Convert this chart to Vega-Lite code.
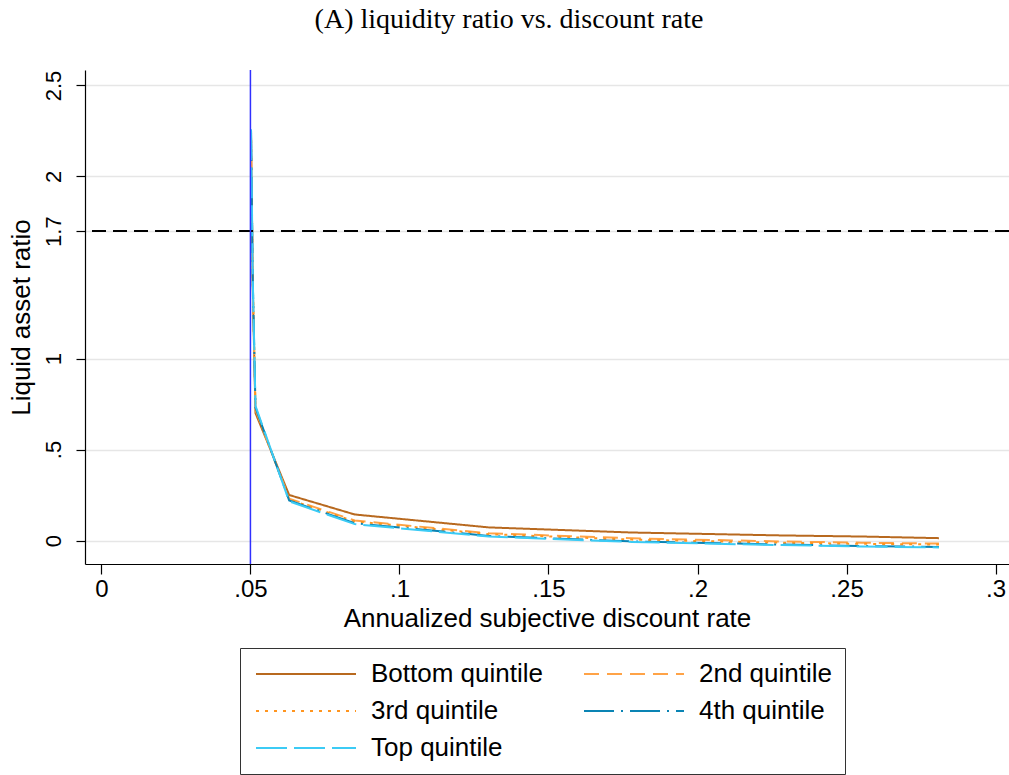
{
  "$schema": "https://vega.github.io/schema/vega-lite/v6.json",
  "width": 924,
  "height": 494,
  "autosize": {"type": "none"},
  "padding": {"left": 85, "top": 70, "right": 0, "bottom": 211},
  "background": "white",
  "title": {
    "text": "(A) liquidity ratio vs. discount rate",
    "font": "Liberation Serif",
    "fontSize": 28,
    "fontWeight": "normal",
    "color": "black",
    "anchor": "middle",
    "frame": "bounds",
    "offset": 35
  },
  "config": {
    "view": {"stroke": null},
    "axis": {
      "labelFont": "Liberation Sans",
      "titleFont": "Liberation Sans",
      "labelColor": "black",
      "titleColor": "black",
      "titleFontWeight": "normal",
      "domainColor": "black",
      "tickColor": "black",
      "domainWidth": 1.2,
      "tickWidth": 1.2,
      "gridColor": "#e6e6e6",
      "gridWidth": 1.5
    }
  },
  "datasets": {
    "curves": [
      {"rate": 0.0502, "ratio": 2.22, "group": "Bottom quintile"},
      {"rate": 0.0508, "ratio": 1.38, "group": "Bottom quintile"},
      {"rate": 0.0517, "ratio": 0.70, "group": "Bottom quintile"},
      {"rate": 0.063, "ratio": 0.25, "group": "Bottom quintile"},
      {"rate": 0.085, "ratio": 0.143, "group": "Bottom quintile"},
      {"rate": 0.13, "ratio": 0.072, "group": "Bottom quintile"},
      {"rate": 0.178, "ratio": 0.044, "group": "Bottom quintile"},
      {"rate": 0.228, "ratio": 0.028, "group": "Bottom quintile"},
      {"rate": 0.255, "ratio": 0.022, "group": "Bottom quintile"},
      {"rate": 0.281, "ratio": 0.013, "group": "Bottom quintile"},

      {"rate": 0.0502, "ratio": 2.24, "group": "2nd quintile"},
      {"rate": 0.0508, "ratio": 1.40, "group": "2nd quintile"},
      {"rate": 0.0517, "ratio": 0.72, "group": "2nd quintile"},
      {"rate": 0.063, "ratio": 0.23, "group": "2nd quintile"},
      {"rate": 0.085, "ratio": 0.11, "group": "2nd quintile"},
      {"rate": 0.13, "ratio": 0.04, "group": "2nd quintile"},
      {"rate": 0.178, "ratio": 0.012, "group": "2nd quintile"},
      {"rate": 0.228, "ratio": -0.005, "group": "2nd quintile"},
      {"rate": 0.255, "ratio": -0.012, "group": "2nd quintile"},
      {"rate": 0.281, "ratio": -0.017, "group": "2nd quintile"},

      {"rate": 0.0502, "ratio": 2.25, "group": "3rd quintile"},
      {"rate": 0.0508, "ratio": 1.41, "group": "3rd quintile"},
      {"rate": 0.0517, "ratio": 0.72, "group": "3rd quintile"},
      {"rate": 0.063, "ratio": 0.225, "group": "3rd quintile"},
      {"rate": 0.085, "ratio": 0.105, "group": "3rd quintile"},
      {"rate": 0.13, "ratio": 0.035, "group": "3rd quintile"},
      {"rate": 0.178, "ratio": 0.005, "group": "3rd quintile"},
      {"rate": 0.228, "ratio": -0.012, "group": "3rd quintile"},
      {"rate": 0.255, "ratio": -0.018, "group": "3rd quintile"},
      {"rate": 0.281, "ratio": -0.022, "group": "3rd quintile"},

      {"rate": 0.0502, "ratio": 2.25, "group": "4th quintile"},
      {"rate": 0.0508, "ratio": 1.42, "group": "4th quintile"},
      {"rate": 0.0517, "ratio": 0.73, "group": "4th quintile"},
      {"rate": 0.063, "ratio": 0.22, "group": "4th quintile"},
      {"rate": 0.085, "ratio": 0.095, "group": "4th quintile"},
      {"rate": 0.13, "ratio": 0.025, "group": "4th quintile"},
      {"rate": 0.178, "ratio": -0.005, "group": "4th quintile"},
      {"rate": 0.228, "ratio": -0.022, "group": "4th quintile"},
      {"rate": 0.255, "ratio": -0.03, "group": "4th quintile"},
      {"rate": 0.281, "ratio": -0.035, "group": "4th quintile"},

      {"rate": 0.0502, "ratio": 2.26, "group": "Top quintile"},
      {"rate": 0.0508, "ratio": 1.43, "group": "Top quintile"},
      {"rate": 0.0517, "ratio": 0.74, "group": "Top quintile"},
      {"rate": 0.063, "ratio": 0.215, "group": "Top quintile"},
      {"rate": 0.085, "ratio": 0.09, "group": "Top quintile"},
      {"rate": 0.13, "ratio": 0.022, "group": "Top quintile"},
      {"rate": 0.178, "ratio": -0.008, "group": "Top quintile"},
      {"rate": 0.228, "ratio": -0.025, "group": "Top quintile"},
      {"rate": 0.255, "ratio": -0.033, "group": "Top quintile"},
      {"rate": 0.281, "ratio": -0.038, "group": "Top quintile"}
    ],
    "benchmark": [{"ratio": 1.7}],
    "baseRate": [{"rate": 0.05}]
  },
  "layer": [
    {
      "data": {"name": "curves"},
      "mark": {"type": "line", "strokeWidth": 2, "clip": true},
      "encoding": {
        "x": {
          "field": "rate",
          "type": "quantitative",
          "scale": {"domain": [-0.0055, 0.3045], "nice": false, "zero": false},
          "axis": {
            "title": "Annualized subjective discount rate",
            "titleFontSize": 26,
            "titlePadding": 4,
            "values": [0, 0.05, 0.1, 0.15, 0.2, 0.25, 0.3],
            "labelExpr": "datum.value > 0 && datum.value < 1 ? slice(format(datum.value, '.2~f'), 1) : format(datum.value, '~g')",
            "labelFontSize": 24,
            "labelPadding": 3,
            "tickSize": 10,
            "grid": false,
            "labelFlush": false
          }
        },
        "y": {
          "field": "ratio",
          "type": "quantitative",
          "scale": {"domain": [-0.129, 2.585], "nice": false, "zero": false},
          "axis": {
            "title": "Liquid asset ratio",
            "titleFontSize": 26,
            "titlePadding": 8,
            "values": [0, 0.5, 1, 1.7, 2, 2.5],
            "labelExpr": "datum.value > 0 && datum.value < 1 ? slice(format(datum.value, '.2~f'), 1) : format(datum.value, '~g')",
            "labelFontSize": 22,
            "labelAngle": -90,
            "labelAlign": "center",
            "labelBaseline": "bottom",
            "labelPadding": 11,
            "tickSize": 9,
            "labelFlush": false
          }
        },
        "color": {
          "field": "group",
          "type": "nominal",
          "sort": ["Bottom quintile", "2nd quintile", "3rd quintile", "4th quintile", "Top quintile"],
          "scale": {
            "domain": ["Bottom quintile", "2nd quintile", "3rd quintile", "4th quintile", "Top quintile"],
            "range": ["#b8691f", "#ffa347", "#ff951f", "#0a84b4", "#3ccbf5"]
          },
          "legend": {
            "title": null,
            "orient": "none",
            "legendX": 155,
            "legendY": 578,
            "columns": 2,
            "direction": "horizontal",
            "symbolType": "M-1,0H9",
            "symbolSize": 400,
            "symbolStrokeWidth": 2,
            "symbolFillColor": "transparent",
            "labelFont": "Liberation Sans",
            "labelFontSize": 26,
            "labelColor": "black",
            "labelOffset": 92,
            "labelLimit": 300,
            "rowPadding": 11,
            "columnPadding": 37,
            "padding": 13,
            "strokeColor": "#333333",
            "fillColor": "white"
          }
        },
        "strokeDash": {
          "field": "group",
          "type": "nominal",
          "sort": ["Bottom quintile", "2nd quintile", "3rd quintile", "4th quintile", "Top quintile"],
          "scale": {
            "domain": ["Bottom quintile", "2nd quintile", "3rd quintile", "4th quintile", "Top quintile"],
            "range": [[1, 0], [15, 8], [3, 6], [30, 7, 2, 7], [31, 7]]
          }
        }
      }
    },
    {
      "data": {"name": "benchmark"},
      "mark": {"type": "rule", "color": "black", "strokeWidth": 2, "strokeDash": [14, 7]},
      "encoding": {"y": {"field": "ratio", "type": "quantitative"}}
    },
    {
      "data": {"name": "baseRate"},
      "mark": {"type": "rule", "color": "#3030ff", "strokeWidth": 1.5},
      "encoding": {"x": {"field": "rate", "type": "quantitative"}}
    }
  ]
}
